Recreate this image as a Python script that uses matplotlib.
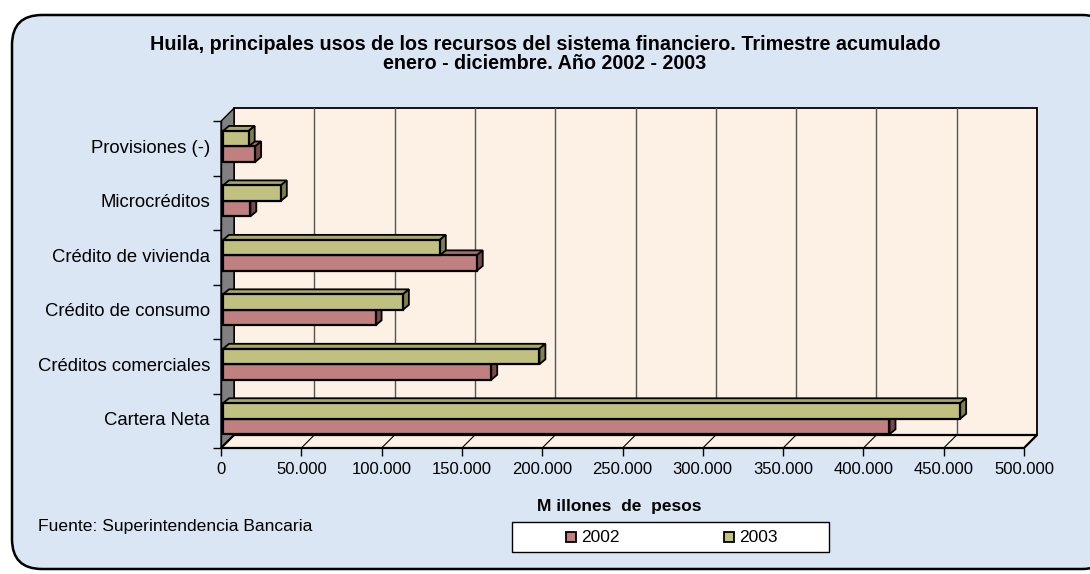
import matplotlib
matplotlib.use("Agg")
import matplotlib.pyplot as plt
from matplotlib.patches import Polygon, Rectangle, FancyBboxPatch
from matplotlib.ticker import FuncFormatter

plt.rcParams['font.family'] = ['Liberation Sans', 'DejaVu Sans']

# datos (millones de pesos), de abajo hacia arriba
categorias = ['Cartera Neta', 'Créditos comerciales', 'Crédito de consumo',
              'Crédito de vivienda', 'Microcréditos', 'Provisiones (-)']
v2002 = [415000, 167000, 95000, 158000, 17000, 20000]
v2003 = [459000, 197000, 112000, 135000, 36000, 16000]
ticks = [0, 50000, 100000, 150000, 200000, 250000, 300000, 350000, 400000, 450000, 500000]

titulo = ('Huila, principales usos de los recursos del sistema financiero. Trimestre acumulado\n'
          'enero - diciembre. Año 2002 - 2003')
fuente = 'Fuente: Superintendencia Bancaria'

c2002 = '#c08080'
c2002_top = '#a86c6c'
c2002_side = '#7a4a4a'
c2003 = '#c0c080'
c2003_top = '#a8a868'
c2003_side = '#808050'
pared = '#fdf0e4'

W, H = 1090, 574
fig = plt.figure(figsize=(W / 100, H / 100), dpi=100)
fig.patch.set_facecolor('white')

# fondo con marco redondeado
bg = fig.add_axes([0, 0, 1, 1])
bg.set_xlim(0, W)
bg.set_ylim(H, 0)
bg.axis('off')
bg.add_patch(FancyBboxPatch((12, 15), 1100, 554, boxstyle='round,pad=0,rounding_size=30',
                            facecolor='#dae6f4', edgecolor='black', lw=1.8))

# ejes del grafico (plano frontal)
x0, x1 = 221, 1024
ytop, ybot = 107.6, 448
ax = fig.add_axes([x0 / W, 1 - ybot / H, (x1 - x0) / W, (ybot - ytop) / H])
ax.set_xlim(0, 500000)
ax.set_ylim(-0.5, 5.75)
ax.patch.set_visible(False)
for s in ax.spines.values():
    s.set_visible(False)

pxx = 500000 / (x1 - x0)     # valor por pixel
pxy = 6.25 / (ybot - ytop)   # categoria por pixel
DX, DY = 13 * pxx, 13 * pxy  # profundidad del grafico
xmax = 500000
ylo, yhi = -0.5, 5.5

# pared del fondo
ax.add_patch(Polygon([(DX, ylo + DY), (xmax + DX, ylo + DY), (xmax + DX, yhi + DY),
                      (DX, yhi + DY)], closed=True, facecolor=pared, edgecolor='black',
                     lw=1.3, zorder=1, clip_on=False))
for t in ticks[1:-1]:
    ax.plot([t + DX, t + DX], [ylo + DY, yhi + DY], color='#555555', lw=1, zorder=2)
# pared izquierda
ax.add_patch(Polygon([(0, ylo), (DX, ylo + DY), (DX, yhi + DY), (0, yhi)], closed=True,
                     facecolor='#808080', edgecolor='black', lw=1, zorder=2, clip_on=False))
# piso
ax.add_patch(Polygon([(0, ylo), (xmax, ylo), (xmax + DX, ylo + DY), (DX, ylo + DY)],
                     closed=True, facecolor=pared, edgecolor='black', lw=1.6, zorder=2,
                     clip_on=False))
for t in ticks[1:-1]:
    ax.plot([t, t + DX], [ylo, ylo + DY], color='black', lw=0.8, zorder=2)

# barras 3D
fdx, fdy = 2 * pxx, 2 * pxy
bdx, bdy = 6 * pxx, 5 * pxy
h = 15.5 * pxy


def barra(y, v, cf, ct, cs, z):
    xa, ya = fdx, y + fdy
    xb, yb = v + fdx, y + h + fdy
    ax.add_patch(Polygon([(xa, yb), (xb, yb), (xb + bdx, yb + bdy), (xa + bdx, yb + bdy)],
                         closed=True, facecolor=ct, edgecolor='black', lw=1.3, zorder=z))
    ax.add_patch(Polygon([(xb, ya), (xb + bdx, ya + bdy), (xb + bdx, yb + bdy), (xb, yb)],
                         closed=True, facecolor=cs, edgecolor='black', lw=1.3, zorder=z))
    ax.add_patch(Rectangle((xa, ya), v, h, facecolor=cf, edgecolor='black', lw=1.6, zorder=z))


for i in range(len(categorias)):
    barra(i - h, v2002[i], c2002, c2002_top, c2002_side, 3 + 2 * i)
    barra(i, v2003[i], c2003, c2003_top, c2003_side, 4 + 2 * i)

# ejes y etiquetas
ax.plot([0, 0], [ylo, yhi], color='black', lw=1, zorder=3)
ax.set_xticks(ticks)
ax.xaxis.set_major_formatter(FuncFormatter(lambda v, p: '0' if v == 0 else f'{int(v):,}'.replace(',', '.')))
ax.tick_params(axis='x', length=6, width=1, pad=4, labelsize=12)
ax.set_yticks([i + 0.5 for i in range(-1, len(categorias))], minor=False)
ax.set_yticklabels([])
ax.tick_params(axis='y', length=6, width=1)
for i, c in enumerate(categorias):
    ax.text(-11 * pxx, i, c, ha='right', va='center', fontsize=13.3)

fig.text(0.5, 1 - 54 / H, titulo, ha='center', va='center', fontsize=14.2,
         fontweight='bold', linespacing=1.05)
fig.text(619 / W, 1 - 506 / H, 'M illones  de  pesos', ha='center', va='center',
         fontsize=12.5, fontweight='bold')
fig.text(38 / W, 1 - 527 / H, fuente, ha='left', va='center', fontsize=12.6)

# leyenda
bg.add_patch(Rectangle((512, 522), 317, 30, facecolor='white', edgecolor='black', lw=1))
for mx, col, lab in [(566, c2002, '2002'), (724, c2003, '2003')]:
    bg.add_patch(Rectangle((mx, 532), 10, 10, facecolor=col, edgecolor='black', lw=1.3))
    bg.text(mx + 15, 538, lab, ha='left', va='center', fontsize=12.5)

fig.savefig('out.png', dpi=100)
